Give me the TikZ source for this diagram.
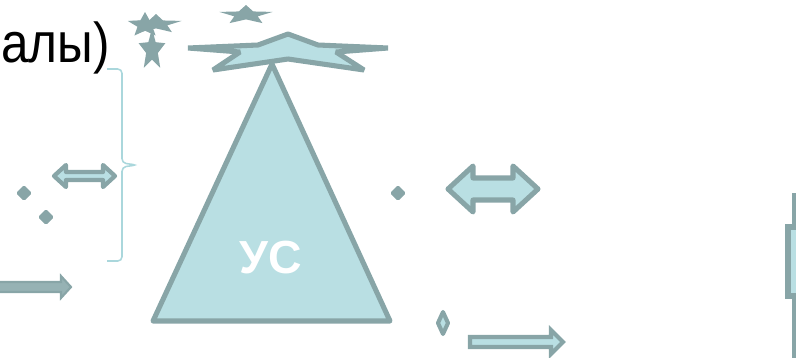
\documentclass[tikz,border=0pt]{standalone}
\usepackage{fontspec}
\setmainfont{Liberation Sans}
\usepackage{xcolor}
\usepackage{tikz}
\usetikzlibrary{positioning}
\definecolor{shapefill}{RGB}{185,223,227}
\definecolor{shapegray}{RGB}{136,165,167}
\definecolor{arrowmid}{RGB}{150,178,180}
\definecolor{bracecol}{RGB}{170,215,220}

% five-point star: fill colour, centre x, centre y, radius x, radius y
\newcommand{\starpoly}[5]{%
  \fill[#1] (#2,{#3-#5}) \foreach \k in {1,...,9}{
    -- ({#2+(1-0.56*mod(\k,2))*#4*cos(90+36*\k)},{#3-(1-0.56*mod(\k,2))*#5*sin(90+36*\k)})
  } -- cycle;}

\begin{document}
\begin{tikzpicture}[
  x=0.025cm, y=-0.025cm,
  outlined/.style={draw=shapegray, fill=shapefill, line width=3.6pt, line join=round},
  thinoutlined/.style={draw=shapegray, fill=shapefill, line width=2.9pt, line join=miter},
  graydot/.style={fill=shapegray, rounded corners=1.2pt},
  bracket/.style={draw=bracecol, line width=1.1pt, rounded corners=3pt}
]
\useasboundingbox (0,0) rectangle (796,357);
\clip (0,0) rectangle (796,357);

% label at the left edge
\node[anchor=base west, inner sep=0pt, xscale=0.88, transform shape,
  font=\fontsize{40}{48}\selectfont] (sig) at (1,62) {алы)};

% little figure and star at the top
\starpoly{shapegray}{145}{25}{18}{13}
\starpoly{shapegray}{156}{24}{27}{10}
\starpoly{shapegray}{152}{50}{14}{22}
\starpoly{shapegray}{246}{15}{28}{10}

% main triangle with its flat star
\draw[outlined] (272,64) -- (390,321) -- (153,321) -- cycle;
\draw[outlined, line join=bevel] (288,34) -- (318,45) -- (388,48) -- (336,52) -- (364,70) -- (288,59)
  -- (213,70) -- (240,52) -- (188,48) -- (258,45) -- cycle;
\node[font=\bfseries\fontsize{33}{40}\selectfont, text=white] (us) at (271,258) {УС};

% brace
\draw[bracket] (107,69) -- (122,69) -- (122,163) -- (137,165) -- (122,167) -- (122,261) -- (107,261);

% double arrows
\draw[outlined, line width=3pt] (54,176) -- (66,165) -- (66,172) -- (103,172) -- (103,165) -- (115,176)
  -- (103,187) -- (103,180) -- (66,180) -- (66,187) -- cycle;
\draw[outlined] (448,189) -- (473,166) -- (473,178) -- (513,178) -- (513,166) -- (538,189)
  -- (513,212) -- (513,200) -- (473,200) -- (473,212) -- cycle;

% single arrows
\draw[draw=shapegray, fill=arrowmid, line width=1.5pt, line join=miter] (-5,282) -- (61,282) -- (61,276) -- (71,287)
  -- (61,298) -- (61,292) -- (-5,292) -- cycle;
\draw[thinoutlined] (470,337) -- (551,337) -- (551,330) -- (563,342) -- (551,354) -- (551,347) -- (470,347) -- cycle;

% small diamonds
\fill[graydot] (24,185) -- (32,193) -- (24,201) -- (16,193) -- cycle;
\fill[graydot] (46,209) -- (54,217) -- (46,225) -- (38,217) -- cycle;
\fill[graydot] (398,185) -- (406,193) -- (398,201) -- (390,193) -- cycle;
\draw[thinoutlined, line join=round] (443,312) -- (448,323) -- (443,334) -- (438,323) -- cycle;

% part at the right edge
\draw[shapegray, line width=2.8pt] (794,193) -- (794,360);
\draw[outlined, line join=miter] (788,227) rectangle (806,296);
\end{tikzpicture}
\end{document}
